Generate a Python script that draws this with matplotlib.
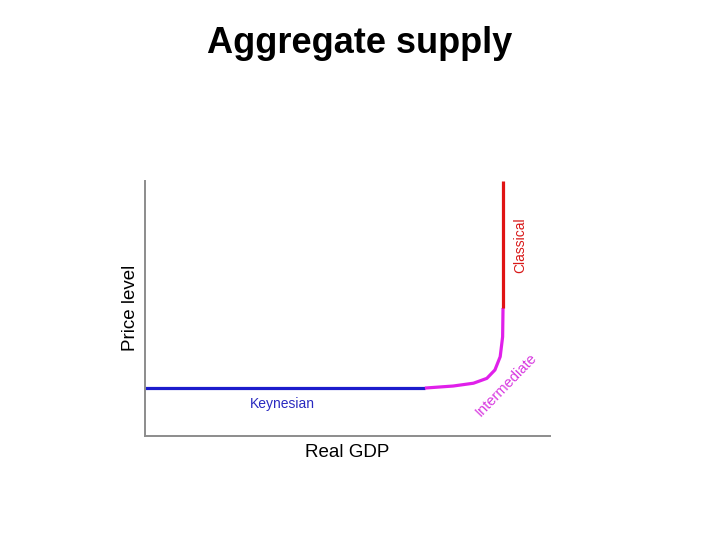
import matplotlib
matplotlib.use("Agg")
import matplotlib.pyplot as plt

plt.rcParams['font.family'] = ['Liberation Sans', 'DejaVu Sans']

# Aggregate supply curve segments (x: real GDP, y: price level, 0-100 scale)
keynes_x = [0, 69.1]
keynes_y = [18.8, 18.8]

inter_x = [69.1, 76.1, 81.1, 84.4, 86.4, 87.7, 88.3, 88.4]
inter_y = [18.8, 19.6, 20.7, 22.6, 25.9, 31.1, 38.9, 50.2]

classic_x = [88.4, 88.4]
classic_y = [50.2, 100]

fig = plt.figure(figsize=(7.2, 5.4), dpi=100)
ax = fig.add_axes([0.2014, 0.1926, 0.5625, 0.4722])

ax.plot(keynes_x, keynes_y, color='#1c1ccc', linewidth=2.3, solid_capstyle='butt')
ax.plot(inter_x, inter_y, color='#e020ea', linewidth=2.3, solid_capstyle='butt',
        solid_joinstyle='round')
ax.plot(classic_x, classic_y, color='#e01414', linewidth=2.3, solid_capstyle='butt')

ax.text(33.8, 12.5, 'Keynesian', color='#2a2ac0', fontsize=10,
        ha='center', va='center')
ax.text(92.6, 74.9, 'Classical', color='#d81818', fontsize=10,
        rotation=90, ha='center', va='center')
ax.text(89.2, 20.0, 'Intermediate', color='#d83ae0', fontsize=10.5,
        rotation=46, ha='center', va='center', rotation_mode='anchor')

ax.set_xlim(0, 100)
ax.set_ylim(0, 100)
ax.set_xticks([])
ax.set_yticks([])
for side in ['top', 'right']:
    ax.spines[side].set_visible(False)
for side in ['left', 'bottom']:
    ax.spines[side].set_color('#8c8c8c')
    ax.spines[side].set_linewidth(1.4)

ax.set_xlabel('Real GDP', fontsize=13.5, va='center')
ax.xaxis.set_label_coords(0.499, -0.066)
ax.set_ylabel('Price level', fontsize=13.5, va='center')
ax.yaxis.set_label_coords(-0.037, 0.502)

fig.text(0.5, 1 - 53 / 540, 'Aggregate supply', fontsize=26,
         fontweight='bold', ha='center', va='baseline')

fig.savefig('out.png', dpi=100)
